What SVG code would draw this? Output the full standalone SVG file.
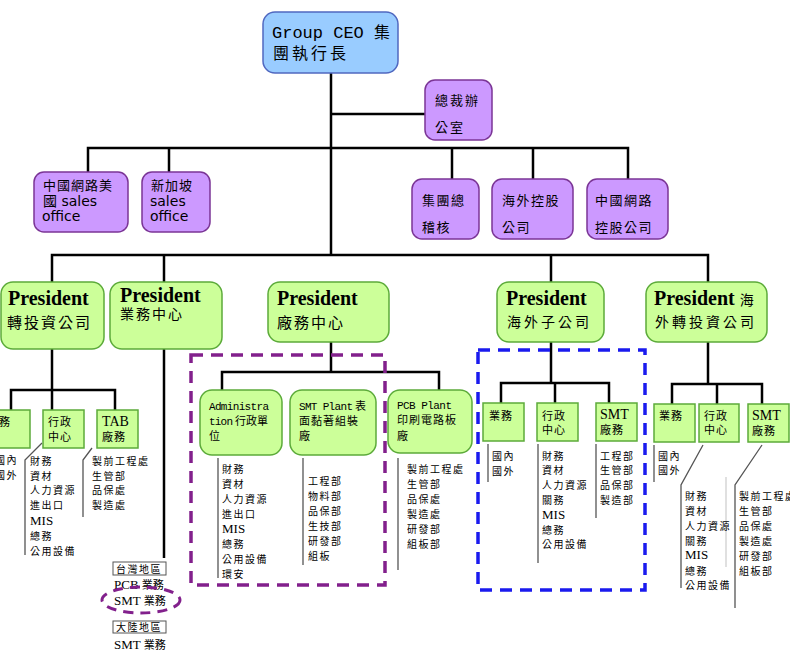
<svg xmlns="http://www.w3.org/2000/svg" width="790" height="655" viewBox="0 0 790 655">
<style>
.bl{fill:#99ccff;stroke:#5068c0;stroke-width:1.5}
.pu{fill:#cc99ff;stroke:#7b3596;stroke-width:1.5}
.gr{fill:#ccff99;stroke:#5cab3a;stroke-width:1.5}
.ln{stroke:#000;stroke-width:2.5;fill:none}
.ls{stroke:#555;stroke-width:1.3;fill:none}
text{font-family:"Liberation Serif","Noto Sans CJK TC",sans-serif;fill:#000}
.zh{font-size:13px;letter-spacing:1.5px}
.sm{font-size:10px;letter-spacing:1.5px}
.bx{font-size:11px;letter-spacing:1px}
.pr{font-weight:bold;font-size:20px}
.mo{font-family:"Liberation Mono","Noto Sans CJK TC",monospace}
.dv{font-family:"DejaVu Sans","Noto Sans CJK TC",sans-serif;font-size:14px}
</style>
<rect width="790" height="655" fill="#fff"/>
<g id="connectors">
<line class="ln" x1="331" y1="73" x2="331" y2="255"/>
<line class="ln" x1="331" y1="114" x2="425" y2="114"/>
<polyline class="ln" points="88,172 88,148 628,148 628,179"/>
<line class="ln" x1="169" y1="148" x2="169" y2="172"/>
<line class="ln" x1="452" y1="148" x2="452" y2="179"/>
<line class="ln" x1="533" y1="148" x2="533" y2="179"/>
<polyline class="ln" points="52,282 52,255 708,255 708,282"/>
<line class="ln" x1="164" y1="255" x2="164" y2="282"/>
<line class="ln" x1="551" y1="255" x2="551" y2="282"/>
<line class="ln" x1="52" y1="349" x2="52" y2="410"/>
<polyline class="ln" points="11,410 11,390 115,390 115,410"/>
<line class="ln" x1="164" y1="349" x2="164" y2="558"/>
<line class="ln" x1="331" y1="342" x2="331" y2="372"/>
<polyline class="ln" points="222,390 222,372 439,372 439,390"/>
<line class="ln" x1="551" y1="342" x2="551" y2="383"/>
<polyline class="ln" points="501,403 501,383 609,383 609,403"/>
<line class="ln" x1="555" y1="383" x2="555" y2="403"/>
<line class="ln" x1="708" y1="342" x2="708" y2="384"/>
<polyline class="ln" points="672,404 672,384 762,384 762,404"/>
<line class="ln" x1="717" y1="384" x2="717" y2="404"/>
<polyline class="ls" points="42,443 25,460 25,555"/>
<polyline class="ls" points="92,448 83,460 83,517"/>
<line class="ls" x1="218" y1="458" x2="218" y2="578"/>
<line class="ls" x1="303" y1="458" x2="303" y2="565"/>
<line class="ls" x1="398" y1="458" x2="398" y2="570"/>
<line class="ls" x1="488" y1="444" x2="488" y2="482"/>
<line class="ls" x1="538" y1="444" x2="538" y2="563"/>
<line class="ls" x1="596" y1="444" x2="596" y2="518"/>
<line class="ls" x1="654" y1="445" x2="654" y2="482"/>
<polyline class="ls" points="703,445 681,485 681,588"/>
<line x1="726" y1="477" x2="726" y2="567" stroke="#ccc" stroke-width="1.2"/>
<polyline class="ls" points="762,445 735,485 735,608"/>
</g>
<rect x="191" y="355" width="194" height="230" fill="none" stroke="#82208c" stroke-width="3.5" stroke-dasharray="12 8"/>
<rect x="478" y="350" width="167" height="240" fill="none" stroke="#1a1aee" stroke-width="3.5" stroke-dasharray="12 8"/>
<g id="ceo"><rect class="bl" x="263" y="12" width="135" height="61" rx="12"/>
<text x="272" y="38" style="font-size:16px"><tspan class="mo" style="font-size:17px">Group CEO </tspan>集</text>
<text x="273" y="59" style="font-size:16px;letter-spacing:3px">團執行長</text></g>
<g id="office"><rect class="pu" x="425" y="80" width="67" height="60" rx="10"/>
<text class="zh" x="435" y="105" style="letter-spacing:2px">總裁辦</text><text class="zh" x="435" y="132" style="letter-spacing:2px">公室</text></g>
<g id="cn-us"><rect class="pu" x="34" y="172" width="94" height="60" rx="10"/>
<text class="zh" x="43" y="190" style="letter-spacing:1px">中國網路美</text>
<text x="43" y="206" class="dv">國 sales</text><text x="42" y="221" class="dv">office</text></g>
<g id="sg"><rect class="pu" x="142" y="172" width="68" height="60" rx="10"/>
<text class="zh" x="151" y="190" style="letter-spacing:1px">新加坡</text>
<text x="150" y="206" class="dv">sales</text><text x="150" y="221" class="dv">office</text></g>
<g id="audit"><rect class="pu" x="412" y="179" width="67" height="60" rx="10"/>
<text class="zh" x="422" y="205">集團總</text><text class="zh" x="422" y="232">稽核</text></g>
<g id="oshold"><rect class="pu" x="492" y="179" width="81" height="60" rx="10"/>
<text class="zh" x="502" y="205">海外控股</text><text class="zh" x="502" y="232">公司</text></g>
<g id="cnhold"><rect class="pu" x="587" y="179" width="81" height="60" rx="10"/>
<text class="zh" x="595" y="205">中國網路</text><text class="zh" x="595" y="232">控股公司</text></g>
<g id="p1"><rect class="gr" x="1" y="282" width="103" height="67" rx="12"/>
<text class="pr" x="8" y="305">President</text><text x="7" y="328" style="font-size:15px;letter-spacing:2px">轉投資公司</text></g>
<g id="p2"><rect class="gr" x="110" y="282" width="112" height="67" rx="12"/>
<text class="pr" x="120" y="302">President</text><text x="120" y="319" style="font-size:14px;letter-spacing:2px">業務中心</text></g>
<g id="p3"><rect class="gr" x="268" y="282" width="121" height="60" rx="12"/>
<text class="pr" x="277" y="305">President</text><text x="277" y="328" style="font-size:15px;letter-spacing:2px">廠務中心</text></g>
<g id="p4"><rect class="gr" x="497" y="282" width="107" height="60" rx="12"/>
<text class="pr" x="506" y="305">President</text><text x="507" y="327" style="font-size:14px;letter-spacing:3px">海外子公司</text></g>
<g id="p5"><rect class="gr" x="646" y="282" width="121" height="60" rx="12"/>
<text class="pr" x="654" y="305">President <tspan style="font-size:14px;font-weight:normal">海</tspan></text><text x="655" y="327" style="font-size:14px;letter-spacing:3px">外轉投資公司</text></g>
<g id="l-sales"><rect class="gr" x="-12" y="410" width="42" height="38"/><text class="bx" x="-13" y="426">業務</text>
<text class="sm" x="-5" y="464">國內</text><text class="sm" x="-5" y="479">國外</text></g>
<g id="l-admin"><rect class="gr" x="43" y="410" width="41" height="38"/><text class="bx" x="48" y="426">行政</text><text class="bx" x="48" y="441">中心</text>
<text class="sm" x="30" y="465">財務</text><text class="sm" x="30" y="480">資材</text><text class="sm" x="30" y="494">人力資源</text><text class="sm" x="30" y="509">進出口</text><text x="30" y="525" style="font-size:13px">MIS</text><text class="sm" x="30" y="540">總務</text><text class="sm" x="30" y="555">公用設備</text></g>
<g id="l-tab"><rect class="gr" x="97" y="410" width="41" height="38"/><text x="102" y="426" style="font-size:14px">TAB</text><text class="bx" x="102" y="441">廠務</text>
<text class="sm" x="92" y="465">製前工程處</text><text class="sm" x="92" y="480">生管部</text><text class="sm" x="92" y="494">品保處</text><text class="sm" x="92" y="509">製造處</text></g>
<g id="region"><rect x="113" y="562" width="53" height="13" fill="#fff" stroke="#555" stroke-width="1"/><text class="sm" x="116" y="573">台灣地區</text>
<text x="114" y="589" style="font-size:13px">PCB <tspan style="font-size:11px">業務</tspan></text>
<text x="114" y="605" style="font-size:13px">SMT <tspan style="font-size:11px">業務</tspan></text>
<ellipse cx="141" cy="600" rx="39" ry="13" fill="none" stroke="#82208c" stroke-width="3" stroke-dasharray="10 7"/>
<rect x="113" y="621" width="53" height="12" fill="#fff" stroke="#555" stroke-width="1"/><text class="sm" x="116" y="631">大陸地區</text>
<text x="114" y="649" style="font-size:13px">SMT <tspan style="font-size:11px">業務</tspan></text></g>
<g id="m-admin"><rect class="gr" x="200" y="390" width="82" height="65" rx="12"/>
<text x="209" y="410" class="mo" style="font-size:11px" textLength="60">Administra</text><text x="209" y="425" style="font-size:11px"><tspan class="mo" textLength="24">tion</tspan> 行政單</text><text x="209" y="440" style="font-size:11px">位</text>
<text class="sm" x="222" y="473">財務</text><text class="sm" x="222" y="488">資材</text><text class="sm" x="222" y="503">人力資源</text><text class="sm" x="222" y="518">進出口</text><text x="222" y="533" style="font-size:13px">MIS</text><text class="sm" x="222" y="548">總務</text><text class="sm" x="222" y="563">公用設備</text><text class="sm" x="222" y="578">環安</text></g>
<g id="m-smt"><rect class="gr" x="290" y="390" width="86" height="65" rx="12"/>
<text x="299" y="410" style="font-size:11px"><tspan class="mo" textLength="54">SMT Plant</tspan> 表</text><text x="299" y="425" style="font-size:11px;letter-spacing:1px">面黏著組裝</text><text x="299" y="440" style="font-size:11px">廠</text>
<text class="sm" x="308" y="485">工程部</text><text class="sm" x="308" y="500">物料部</text><text class="sm" x="308" y="515">品保部</text><text class="sm" x="308" y="530">生技部</text><text class="sm" x="308" y="545">研發部</text><text class="sm" x="308" y="560">組板</text></g>
<g id="m-pcb"><rect class="gr" x="388" y="390" width="84" height="63" rx="12"/>
<text x="397" y="409" class="mo" style="font-size:11px" textLength="55">PCB Plant</text><text x="397" y="424" style="font-size:11px;letter-spacing:1px">印刷電路板</text><text x="397" y="440" style="font-size:11px">廠</text>
<text class="sm" x="407" y="473">製前工程處</text><text class="sm" x="407" y="488">生管部</text><text class="sm" x="407" y="503">品保處</text><text class="sm" x="407" y="518">製造處</text><text class="sm" x="407" y="533">研發部</text><text class="sm" x="407" y="548">組板部</text></g>
<g id="o-sales"><rect class="gr" x="483" y="403" width="41" height="38"/><text class="bx" x="489" y="420">業務</text>
<text class="sm" x="492" y="460">國內</text><text class="sm" x="492" y="475">國外</text></g>
<g id="o-admin"><rect class="gr" x="537" y="403" width="41" height="38"/><text class="bx" x="542" y="420">行政</text><text class="bx" x="542" y="434">中心</text>
<text class="sm" x="542" y="460">財務</text><text class="sm" x="542" y="474">資材</text><text class="sm" x="542" y="489">人力資源</text><text class="sm" x="542" y="504">關務</text><text x="542" y="519" style="font-size:13px">MIS</text><text class="sm" x="542" y="534">總務</text><text class="sm" x="542" y="548">公用設備</text></g>
<g id="o-smt"><rect class="gr" x="596" y="403" width="41" height="38"/><text x="600" y="419" style="font-size:14px">SMT</text><text class="bx" x="600" y="434">廠務</text>
<text class="sm" x="600" y="460">工程部</text><text class="sm" x="600" y="474">生管部</text><text class="sm" x="600" y="489">品保部</text><text class="sm" x="600" y="504">製造部</text></g>
<g id="r-sales"><rect class="gr" x="654" y="404" width="41" height="38"/><text class="bx" x="659" y="420">業務</text>
<text class="sm" x="658" y="460">國內</text><text class="sm" x="658" y="474">國外</text></g>
<g id="r-admin"><rect class="gr" x="699" y="404" width="40" height="38"/><text class="bx" x="704" y="420">行政</text><text class="bx" x="704" y="434">中心</text>
<text class="sm" x="685" y="500">財務</text><text class="sm" x="685" y="515">資材</text><text class="sm" x="685" y="530">人力資源</text><text class="sm" x="685" y="545">關務</text><text x="685" y="559" style="font-size:13px">MIS</text><text class="sm" x="685" y="575">總務</text><text class="sm" x="685" y="589">公用設備</text></g>
<g id="r-smt"><rect class="gr" x="748" y="404" width="41" height="38"/><text x="752" y="420" style="font-size:14px">SMT</text><text class="bx" x="752" y="435">廠務</text>
<text class="sm" x="739" y="500">製前工程處</text><text class="sm" x="739" y="515">生管部</text><text class="sm" x="739" y="530">品保處</text><text class="sm" x="739" y="545">製造處</text><text class="sm" x="739" y="560">研發部</text><text class="sm" x="739" y="575">組板部</text></g>
</svg>
